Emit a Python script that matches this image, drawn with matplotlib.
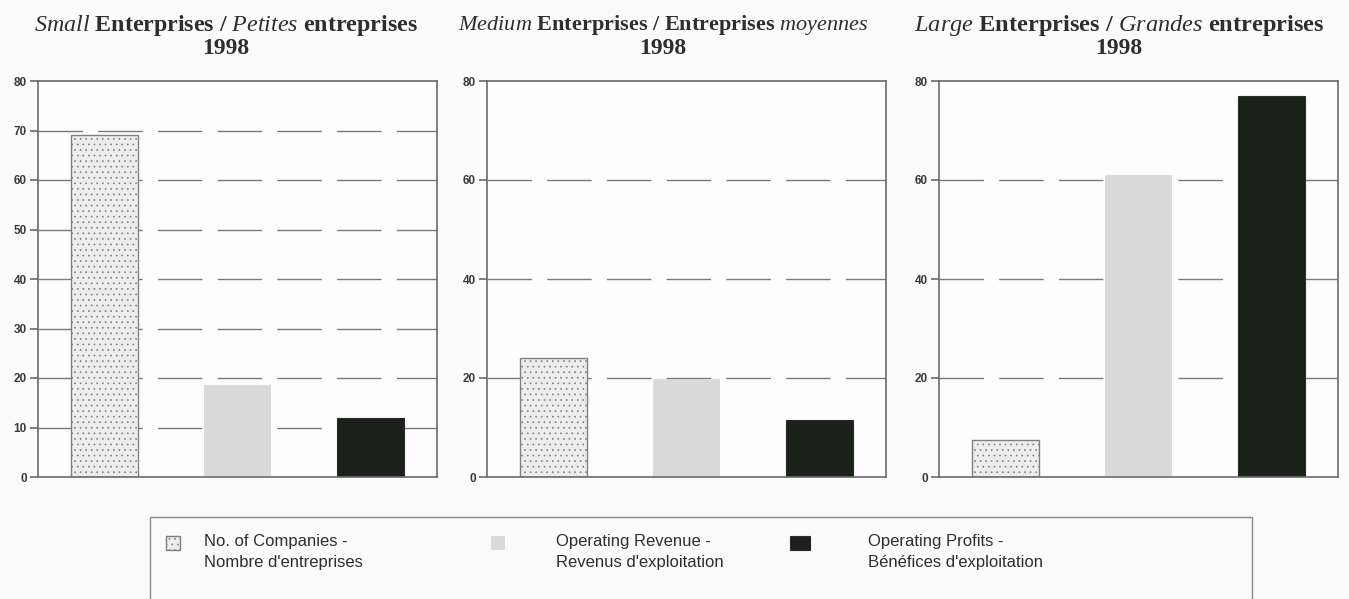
import matplotlib
matplotlib.use('Agg')
import matplotlib.pyplot as plt
from matplotlib.patches import Rectangle
from matplotlib.container import BarContainer
from matplotlib.legend_handler import HandlerPatch, update_from_first_child

# data (per cent shares, 1998)
groups = ['Small', 'Medium', 'Large']
companies = [69, 24, 7.5]
revenue = [18.5, 19.7, 61]
profits = [12, 11.5, 77]
yticks = [list(range(0, 81, 10)), list(range(0, 81, 20)), list(range(0, 81, 20))]
titles = [r'$\mathit{Small}$ Enterprises / $\mathit{Petites}$ entreprises',
          r'$\mathit{Medium}$ Enterprises / Entreprises $\mathit{moyennes}$',
          r'$\mathit{Large}$ Enterprises / $\mathit{Grandes}$ entreprises']
year = '1998'
labels = ["No. of Companies -\nNombre d'entreprises",
          "Operating Revenue -\nRevenus d'exploitation",
          "Operating Profits -\nBénéfices d'exploitation"]

plt.rcParams['mathtext.fontset'] = 'custom'
plt.rcParams['mathtext.it'] = 'Liberation Serif:italic'
plt.rcParams['mathtext.rm'] = 'Liberation Serif:bold'
plt.rcParams['mathtext.bf'] = 'Liberation Serif:bold'
plt.rcParams['hatch.linewidth'] = 0.5

W, H = 1349, 599
fig = plt.figure(figsize=(W / 100, H / 100), dpi=100, facecolor='#fbfbfb')

lefts = [38, 487, 939]
title_x = [226, 663, 1119]
title_size = [17.3, 16.0, 17.6]
spine_c = '#6a6a6a'

for i in range(3):
    ax = fig.add_axes([lefts[i] / W, (H - 477) / H, 399 / W, 396 / H])
    ax.set_facecolor('#fdfdfd')
    vals = [companies[i], revenue[i], profits[i]]
    b1 = ax.bar(0, vals[0], width=0.5, color='#ededed', edgecolor='#808080',
                hatch='...', linewidth=1.0)
    b2 = ax.bar(1, vals[1], width=0.5, color='#dadada', edgecolor='none')
    b3 = ax.bar(2, vals[2], width=0.5, color='#1b2219', edgecolor='#2a2a2a',
                linewidth=0.8)
    ax.set_xlim(-0.5, 2.5)
    ax.set_ylim(0, 80)
    ax.set_xticks([])
    ax.set_yticks(yticks[i])
    for t in yticks[i][1:-1]:
        ax.axhline(t, color='#7a7a7a', lw=1.0, ls=(0, (32, 11)), zorder=0.5)
    ax.set_axisbelow(True)
    ax.tick_params(axis='y', direction='out', length=6, width=1.2, color=spine_c,
                   pad=2, labelsize=8.5, labelcolor='#3a3a3a')
    for lab in ax.get_yticklabels():
        lab.set_fontweight('bold')
        lab.set_family('Liberation Sans')
    for s in ax.spines.values():
        s.set_color(spine_c)
        s.set_linewidth(1.2)
    fig.text(title_x[i] / W, 1 - 25 / H, titles[i], ha='center', va='center',
             fontsize=title_size[i], family='Liberation Serif', fontweight='bold',
             color='#2e2e2e')
    fig.text(title_x[i] / W, 1 - 48 / H, year, ha='center', va='center',
             fontsize=17, family='Liberation Serif', fontweight='bold',
             color='#2e2e2e')
    if i == 0:
        handles = [b1, b2, b3]


def top_patch(legend, orig_handle, xdescent, ydescent, width, height, fontsize):
    # put the key next to the first line of a two-line label
    return Rectangle((-xdescent, -ydescent + 0.55 * fontsize), width, height)


# legend frame, cut at the bottom edge as in the scan
fig.patches.append(Rectangle((150 / W, -0.1), 1102 / W, 0.1 + (H - 517) / H,
                             transform=fig.transFigure, fill=False,
                             edgecolor='#8a8a8a', lw=1.0))
key_x = [166, 491, 790]
key_len = [0.85, 0.85, 1.2]
text_pad = [1.45, 3.05, 3.5]
key_handler = HandlerPatch(patch_func=top_patch, update_func=update_from_first_child)
for k in range(3):
    leg = fig.legend([handles[k]], [labels[k]], loc='upper left',
                     bbox_to_anchor=(key_x[k] / W, 1 - 534 / H),
                     frameon=False, borderpad=0, borderaxespad=0,
                     handlelength=key_len[k], handleheight=0.9,
                     handletextpad=text_pad[k],
                     handler_map={BarContainer: key_handler},
                     prop={'family': 'Liberation Sans', 'size': 12},
                     labelcolor='#2e2e2e')
    for t in leg.get_texts():
        t.set_linespacing(1.5)

fig.savefig('out.png', dpi=100, facecolor=fig.get_facecolor())
